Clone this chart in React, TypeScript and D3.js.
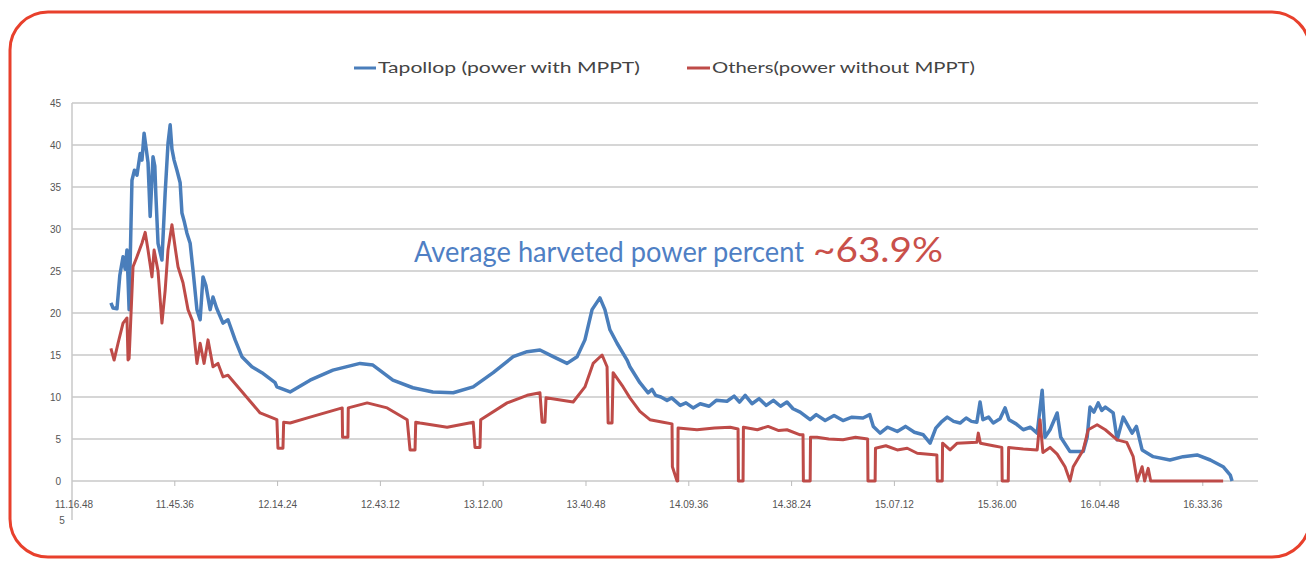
import React from 'react';
import * as d3 from 'd3';

// minutes after 11.16.48, power value
const blueSeries: [number, number][] = [
  [10.9, 21.2], [11.5, 20.6], [12.6, 20.5], [13.4, 24.5], [14.3, 26.7], [14.9, 25.2], [15.4, 27.5], [15.7, 24],
  [16.0, 20.4], [16.8, 35.8], [17.5, 37.0], [18.2, 36.4], [19.1, 39.0], [19.6, 38.2], [20.2, 41.4], [20.8, 39.5],
  [21.3, 37.9], [21.9, 31.5], [22.4, 36.0], [22.7, 38.6], [23.2, 37.5], [23.5, 34.0], [24.1, 28.3], [25.2, 26.3],
  [26.1, 34.3], [26.9, 40.2], [27.5, 42.4], [28.0, 39.5], [28.6, 38.2], [29.4, 37.0], [30.3, 35.5], [30.8, 31.9],
  [31.5, 30.8], [32.2, 29.5], [33.1, 28.3], [33.9, 25.1], [35.0, 20.4], [35.9, 19.2], [36.7, 24.3], [37.5, 23.3],
  [38.7, 20.4], [39.5, 21.9], [40.5, 20.6], [42.3, 18.8], [43.7, 19.2], [45.7, 16.8], [47.6, 14.8], [50.4, 13.6],
  [53.2, 12.9], [56.9, 11.7], [57.4, 11.2], [61.1, 10.6], [66.7, 12.0], [73.1, 13.2], [80.7, 14.0], [84.3, 13.8],
  [89.9, 12.0], [95.5, 11.1], [101.1, 10.6], [106.8, 10.5], [112.4, 11.2], [118.0, 12.9], [123.6, 14.8], [127.5, 15.4],
  [131.1, 15.6], [134.8, 14.8], [138.7, 14.0], [141.5, 14.8], [143.7, 16.8], [145.7, 20.4], [147.9, 21.8], [149.3, 20.4],
  [150.7, 18.0], [152.7, 16.4], [155.5, 14.4], [156.3, 13.6], [159.1, 11.7], [161.4, 10.5], [162.5, 10.9], [163.5, 10.2],
  [165.0, 10.0], [166.7, 9.6], [168.0, 9.9], [170.4, 9.0], [172.0, 9.3], [174.0, 8.7], [176.0, 9.2], [178.5, 8.9],
  [180.5, 9.6], [183.5, 9.5], [185.5, 10.1], [187.0, 9.4], [188.6, 10.2], [190.5, 9.2], [192.5, 9.8], [194.5, 9.0],
  [196.5, 9.6], [198.5, 8.9], [200.3, 9.4], [202.0, 8.6], [204.0, 8.2], [206.8, 7.3], [208.5, 7.9], [211.0, 7.2],
  [213.5, 7.8], [216.0, 7.2], [218.5, 7.6], [221.6, 7.5], [223.5, 7.9], [224.5, 6.5], [226.4, 5.7], [228.5, 6.4],
  [231.2, 5.9], [233.5, 6.5], [236.0, 5.8], [238.5, 5.5], [240.4, 4.5], [242.0, 6.3], [243.5, 7.0], [245.2, 7.6],
  [247.0, 7.1], [248.8, 6.9], [250.5, 7.5], [252.0, 7.1], [253.5, 7.0], [254.4, 9.4], [255.2, 7.3], [256.8, 7.6],
  [258.1, 6.9], [260.0, 7.4], [261.4, 8.7], [262.5, 7.3], [264.5, 6.8], [266.5, 6.1], [268.5, 6.4], [270.4, 5.7],
  [271.8, 10.8], [272.6, 5.2], [274.0, 6.1], [276.0, 8.1], [277.0, 5.2], [279.6, 3.5], [283.3, 3.5], [284.4, 5.2],
  [285.2, 8.8], [286.3, 8.2], [287.5, 9.3], [288.5, 8.4], [289.5, 8.8], [291.7, 8.1], [292.8, 4.9], [294.5, 7.6],
  [297.0, 5.7], [298.2, 6.5], [299.8, 3.7], [302.9, 2.9], [307.6, 2.5], [311.3, 2.9], [315.2, 3.1], [318.9, 2.5],
  [322.5, 1.7], [324.5, 0.7], [325.0, 0.0],
];

const redSeries: [number, number][] = [
  [10.9, 15.8], [11.8, 14.4], [12.9, 16.4], [14.3, 18.8], [15.4, 19.4], [15.7, 14.4], [16.0, 14.6], [17.1, 25.5],
  [18.2, 26.7], [19.6, 28.3], [20.5, 29.6], [21.3, 27.5], [22.4, 24.3], [23.0, 27.5], [24.1, 25.0], [25.2, 18.8],
  [26.1, 22.7], [26.9, 27.5], [28.0, 30.5], [29.0, 27.5], [29.7, 25.5], [31.1, 23.6], [32.5, 20.4], [33.8, 19.0],
  [35.0, 14.0], [35.9, 16.4], [37.0, 14.0], [38.1, 16.8], [39.5, 13.6], [40.9, 14.0], [42.3, 12.4], [43.7, 12.6],
  [46.5, 11.2], [49.9, 9.5], [52.7, 8.1], [57.4, 7.3], [57.7, 3.9], [59.1, 3.9], [59.3, 7.0], [61.1, 6.9],
  [66.7, 7.6], [75.7, 8.7], [75.8, 5.2], [77.3, 5.2], [77.4, 8.7], [82.7, 9.3], [88.3, 8.7], [93.9, 7.3],
  [94.7, 3.7], [96.1, 3.7], [96.3, 7.0], [97.5, 6.9], [105.1, 6.4], [112.4, 7.0], [112.9, 4.0], [114.3, 4.0],
  [114.5, 7.3], [121.9, 9.3], [127.5, 10.2], [131.1, 10.5], [131.7, 7.0], [132.5, 7.0], [132.8, 9.9], [140.4, 9.4],
  [143.7, 11.2], [146.0, 14.0], [148.5, 15.0], [149.9, 13.6], [150.2, 6.9], [151.3, 6.9], [151.6, 12.9], [154.4, 11.2],
  [156.3, 9.9], [159.1, 8.3], [161.9, 7.3], [165.6, 7.0], [168.1, 6.8], [168.2, 1.7], [169.5, 0], [169.7, 0],
  [169.8, 6.3], [175.1, 6.1], [180.0, 6.3], [184.4, 6.4], [186.6, 6.2], [186.7, 0], [188.0, 0], [188.1, 6.4],
  [192.0, 6.1], [195.0, 6.5], [198.0, 6.0], [200.3, 6.1], [204.0, 5.5], [204.8, 5.5], [204.9, 0], [206.8, 0],
  [206.9, 5.2], [208.7, 5.2], [212.0, 5.0], [216.0, 4.9], [219.5, 5.2], [222.9, 5.0], [223.0, 0], [225.0, 0],
  [225.1, 3.9], [228.0, 4.2], [231.2, 3.7], [234.0, 3.9], [236.8, 3.3], [242.3, 3.1], [242.4, 0], [243.8, 0],
  [243.9, 4.5], [246.0, 3.7], [248.0, 4.5], [253.5, 4.6], [253.9, 5.7], [254.5, 4.5], [258.1, 4.2], [260.5, 4.0],
  [260.6, 0], [262.3, 0], [262.4, 4.0], [266.5, 3.8], [270.4, 3.7], [271.2, 7.3], [272.0, 3.4], [274.0, 4.0],
  [276.0, 3.2], [278.2, 1.7], [279.6, 0], [280.5, 1.7], [283.3, 3.7], [284.7, 6.1], [287.2, 6.7], [289.5, 6.1],
  [292.8, 4.9], [295.5, 4.6], [297.3, 2.9], [298.4, 0], [299.8, 1.7], [300.5, 0], [301.5, 1.5], [302.2, 0],
  [322.5, 0],
];

const yTicks = [0, 5, 10, 15, 20, 25, 30, 35, 40, 45];
const xTickLabels = [
  '11.16.48', '11.45.36', '12.14.24', '12.43.12', '13.12.00', '13.40.48',
  '14.09.36', '14.38.24', '15.07.12', '15.36.00', '16.04.48', '16.33.36',
];
const tickStep = 28.8; // minutes between labels

const BLUE = '#4a7ebb';
const RED = '#be4b48';

const App: React.FC = () => {
  const W = 1306;
  const H = 562;
  const left = 72, right = 1258, top = 103, bottom = 481;

  const x = d3.scaleLinear().domain([0, tickStep * 11.537]).range([left, right]);
  const y = d3.scaleLinear().domain([0, 45]).range([bottom, top]);

  const line = d3.line<[number, number]>()
    .x(d => x(d[0]))
    .y(d => y(d[1]));

  return (
    <svg width={W} height={H} style={{ position: 'absolute', left: 0, top: 0, background: '#fff' }}>
      {/* outer rounded frame */}
      <rect x={10} y={12} width={1300} height={545} rx={38} ry={38}
        fill="none" stroke="#e8402c" strokeWidth={3} />

      {/* legend */}
      <g fontFamily="Lato, 'Open Sans', sans-serif" fontSize={16} fill="#444">
        <line x1={354} x2={376} y1={68} y2={68} stroke={BLUE} strokeWidth={3} />
        <text x={378} y={73} textLength={262} lengthAdjust="spacingAndGlyphs">Tapollop (power with MPPT)</text>
        <line x1={687} x2={710} y1={68} y2={68} stroke={RED} strokeWidth={3} />
        <text x={712} y={73} textLength={263} lengthAdjust="spacingAndGlyphs">Others(power without MPPT)</text>
      </g>

      {/* gridlines + y labels */}
      {yTicks.map(t => (
        <g key={t}>
          <line x1={left} x2={right} y1={y(t)} y2={y(t)} stroke="#c8c8c8" strokeWidth={1.5} />
          <text x={61} y={y(t) + 4} textAnchor="end" fontSize={10}
            fontFamily="'Liberation Sans', sans-serif" fill="#555">{t}</text>
        </g>
      ))}
      <line x1={left} x2={left} y1={top} y2={520} stroke="#c8c8c8" strokeWidth={1.5} />

      {/* x ticks and labels */}
      {xTickLabels.map((lab, i) => (
        <g key={lab}>
          {i > 0 && <line x1={x(i * tickStep)} x2={x(i * tickStep)} y1={bottom} y2={bottom + 5} stroke="#bbb" strokeWidth={1} />}
          <text x={x(i * tickStep) + (i === 0 ? 2 : 0)} y={508} textAnchor="middle" fontSize={10}
            fontFamily="'Liberation Sans', sans-serif" fill="#555">{lab}</text>
        </g>
      ))}
      <text x={62} y={524} textAnchor="middle" fontSize={10} fontFamily="'Liberation Sans', sans-serif" fill="#555">5</text>

      {/* series */}
      <path d={line(blueSeries) || ''} fill="none" stroke={BLUE} strokeWidth={3.5} strokeLinejoin="round" />
      <path d={line(redSeries) || ''} fill="none" stroke={RED} strokeWidth={3} strokeLinejoin="round" />

      {/* annotation */}
      <text x={414} y={262} fontFamily="Lato, 'Open Sans', sans-serif" fontSize={28} fill="#4f7fc4"
        textLength={390} lengthAdjust="spacingAndGlyphs">Average harveted power percent</text>
      <text x={813} y={262} fontFamily="Lato, 'Open Sans', sans-serif" fontSize={34} fill="#c9504a"
        textLength={130} lengthAdjust="spacingAndGlyphs">~63.9%</text>
    </svg>
  );
};

export default App;
